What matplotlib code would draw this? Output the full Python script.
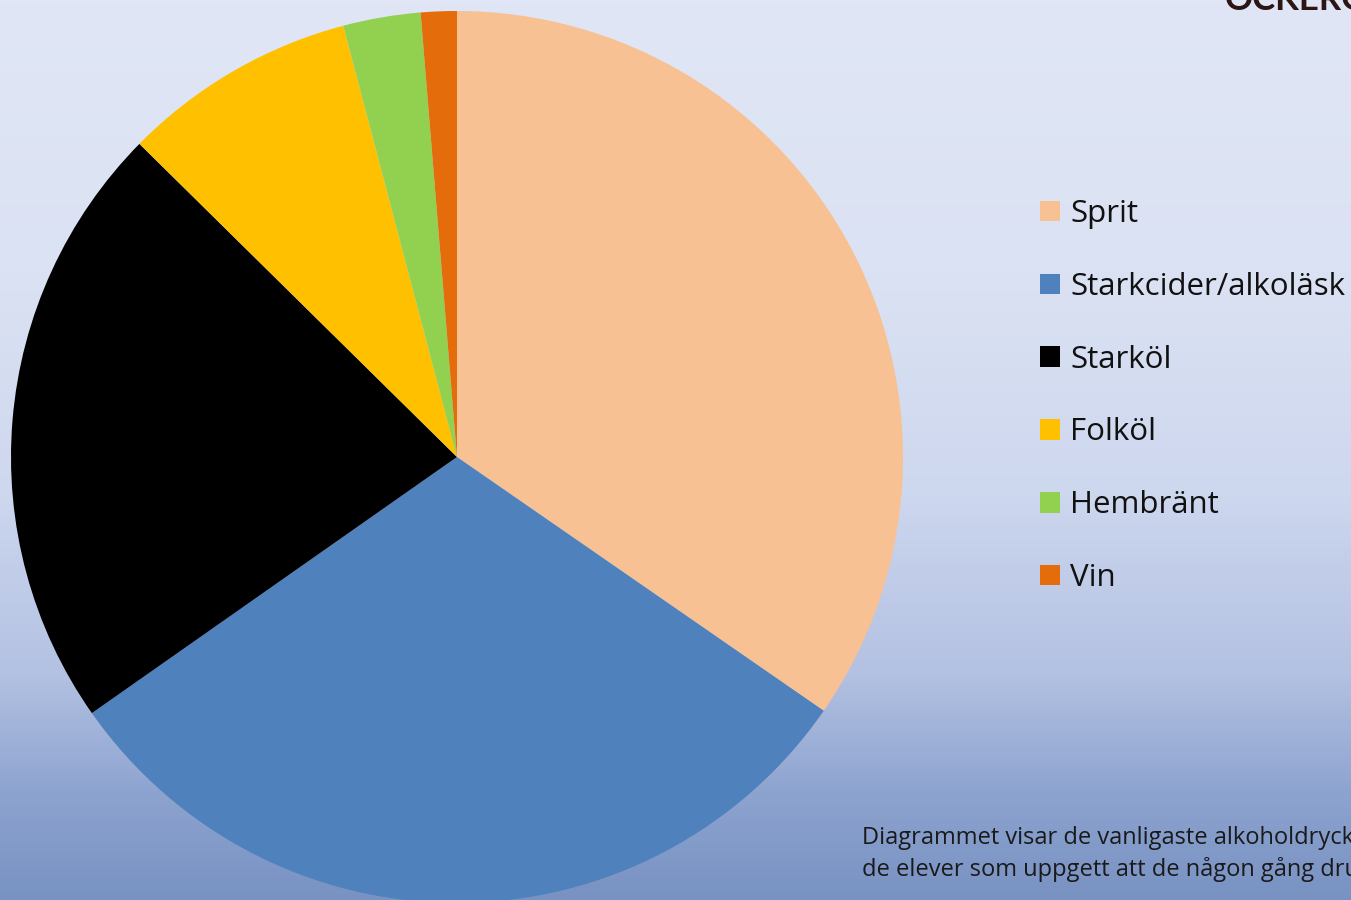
import numpy as np
import matplotlib.pyplot as plt
from matplotlib.colors import LinearSegmentedColormap
from matplotlib.patches import Patch

# Data (percent)
drinks = ['Sprit', 'Starkcider/alkoläsk', 'Starköl', 'Folköl', 'Hembränt', 'Vin']
shares = [34.6, 30.6, 22.1, 8.5, 2.8, 1.3]
colors = ['#F8C193', '#4F81BD', '#000000', '#FFC000', '#92D050', '#E46C0A']

caption = ('Diagrammet visar de vanligaste alkoholdryckerna bland\n'
           'de elever som uppgett att de någon gång druckit alkohol.')

plt.rcParams['font.family'] = ['Open Sans', 'DejaVu Sans']

W, H = 1351, 900
fig = plt.figure(figsize=(W / 100, H / 100), dpi=100)

# background gradient (sky-like)
bg = fig.add_axes([0, 0, 1, 1])
bg.set_axis_off()
sky = LinearSegmentedColormap.from_list('sky', [
    (0.0, '#7892c2'), (0.12, '#8ea4d0'), (0.25, '#b3c1e2'),
    (0.45, '#cdd7ee'), (0.7, '#dbe2f3'), (1.0, '#e0e6f5')])
grad = np.linspace(0, 1, 256).reshape(-1, 1)
bg.imshow(grad, cmap=sky, aspect='auto', origin='lower', extent=[0, 1, 0, 1])
bg.set_xlim(0, 1)
bg.set_ylim(0, 1)

ax = fig.add_axes([0, 0, 1, 1])
ax.set_axis_off()

wedges, _ = ax.pie(shares, colors=colors, startangle=90, counterclock=False,
                   center=(457, H - 457), radius=446,
                   wedgeprops=dict(linewidth=0))
ax.set_xlim(0, W)
ax.set_ylim(0, H)
ax.set_aspect('equal')

handles = [Patch(facecolor=c, edgecolor='none') for c in colors]
leg = ax.legend(handles, drinks, loc='upper left', bbox_to_anchor=(1040 / W, 1 - 199 / H),
                frameon=False, prop=dict(family=['Open Sans', 'DejaVu Sans'], size=22.5),
                handlelength=0.64, handleheight=0.64,
                handletextpad=0.32, labelspacing=1.37, borderaxespad=0, borderpad=0)
for t in leg.get_texts():
    t.set_color('#111111')

fig.text(862 / W, 1 - 854 / H, caption, fontsize=17, color='#1a1a1a',
         va='center', ha='left', linespacing=1.38)

fig.text(1225 / W, 1 - 0 / H, 'ÖCKERÖ', fontsize=25, fontweight='bold',
         family=['Lato', 'DejaVu Sans'], color='#2b1515', va='center', ha='left')

fig.savefig('out.png', dpi=100)
